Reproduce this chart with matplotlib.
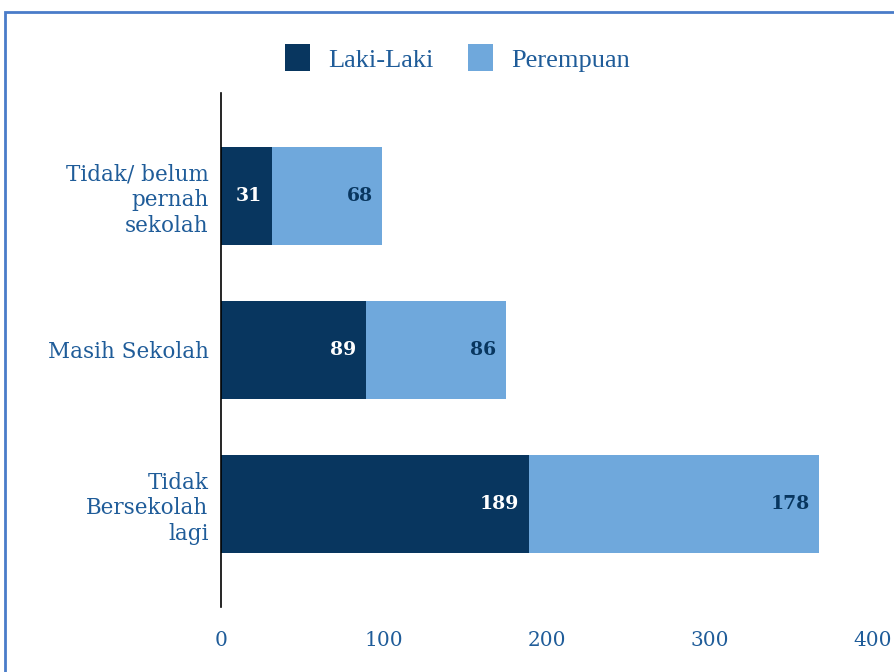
import matplotlib
matplotlib.use("Agg")
import matplotlib.pyplot as plt
from matplotlib.patches import Rectangle

categories = ["Tidak/ belum\npernah\nsekolah", "Masih Sekolah", "Tidak\nBersekolah\nlagi"]
laki = [31, 89, 189]
perempuan = [68, 86, 178]
series_names = ["Laki-Laki", "Perempuan"]
xticks = [0, 100, 200, 300, 400]

DARK = "#08365f"
LIGHT = "#6fa8dc"
TEXT = "#1f5c99"
SERIF = ["DejaVu Serif"]

fig = plt.figure(figsize=(8.94, 6.72), dpi=100)
ax = fig.add_axes([221/894, (672-607)/672, (873-221)/894, (607-93)/672])

y = list(range(len(categories)))
h = 0.64
b1 = ax.barh(y, laki, height=h, color=DARK, label=series_names[0])
b2 = ax.barh(y, perempuan, left=laki, height=h, color=LIGHT, label=series_names[1])

for i in y:
    ax.annotate(str(laki[i]), xy=(laki[i], i), xytext=(-7, 0), textcoords="offset points",
                ha="right", va="center", color="white", fontsize=13.5, fontweight="bold", family=SERIF)
    tot = laki[i] + perempuan[i]
    ax.annotate(str(perempuan[i]), xy=(tot, i), xytext=(-7, 0), textcoords="offset points",
                ha="right", va="center", color=DARK, fontsize=13.5, fontweight="bold", family=SERIF)

ax.set_xlim(0, 400)
ax.set_ylim(2.67, -0.67)
ax.set_yticks(y)
ax.set_yticklabels(categories, family=SERIF, fontsize=15.5, color=TEXT, linespacing=1.22)
ax.set_xticks(xticks)
ax.set_xticklabels([str(t) for t in xticks], family=SERIF, fontsize=14.5, color=TEXT)
ax.tick_params(axis="both", length=0)
ax.tick_params(axis="x", pad=17)
ax.tick_params(axis="y", pad=9)
for s in ["top", "right", "bottom"]:
    ax.spines[s].set_visible(False)
ax.spines["left"].set_color("black")
ax.spines["left"].set_linewidth(1.2)

fig.legend(handles=[b1, b2], labels=series_names, loc="center", bbox_to_anchor=(0.5117, 0.9137),
           ncol=2, frameon=False, handlelength=0.95, handleheight=1.15, columnspacing=1.33,
           handletextpad=0.68, prop={"family": "Liberation Serif", "size": 19}, labelcolor=TEXT)

fig.patches.append(Rectangle((5/894, -0.1), 1.2, (672-12)/672 + 0.1, transform=fig.transFigure,
                             fill=False, edgecolor="#4a7cc9", linewidth=2, figure=fig))

fig.savefig("out.png", dpi=100)
